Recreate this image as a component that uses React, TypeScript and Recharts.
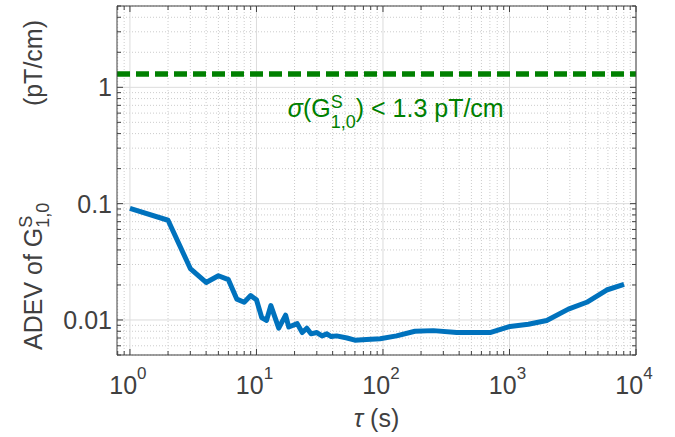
import React from 'react';
import {
  ComposedChart,
  Line,
  XAxis,
  YAxis,
  CartesianGrid,
  ReferenceLine,
  ReferenceDot,
} from 'recharts';

document.body.style.margin = '0';

// averaging time tau (s) and Allan deviation (pT/cm)
const tau = [1, 2, 3, 4, 5, 6, 7, 8, 9, 10, 11, 12, 13, 15, 17, 18, 21, 23, 25, 27, 30, 33, 36, 39, 43, 52, 60, 74, 95, 128, 179, 250, 383, 702, 1010, 1410, 1970, 2920, 4080, 5860, 8040];
const adev = [0.091, 0.072, 0.0277, 0.021, 0.024, 0.0222, 0.0151, 0.0142, 0.0162, 0.0149, 0.0105, 0.0099, 0.0133, 0.0085, 0.011, 0.0087, 0.0093, 0.0078, 0.0085, 0.0076, 0.0078, 0.0073, 0.0076, 0.0072, 0.0073, 0.007, 0.0067, 0.0068, 0.0069, 0.0073, 0.008, 0.0081, 0.0078, 0.0078, 0.0088, 0.0092, 0.0099, 0.0124, 0.0142, 0.0181, 0.0202];

const LIMIT = 1.3;

const X_DOMAIN = [0.79, 10000];
const Y_DOMAIN = [0.005, 5];
const X_MAJOR = [1, 10, 100, 1000, 10000];
const X_MINOR = [0.8, 0.9, 2, 3, 4, 5, 6, 7, 8, 9, 20, 30, 40, 50, 60, 70, 80, 90, 200, 300, 400, 500, 600, 700, 800, 900, 2000, 3000, 4000, 5000, 6000, 7000, 8000, 9000];
const Y_MAJOR = [0.01, 0.1, 1];
const Y_MINOR = [0.005, 0.006, 0.007, 0.008, 0.009, 0.02, 0.03, 0.04, 0.05, 0.06, 0.07, 0.08, 0.09, 0.2, 0.3, 0.4, 0.5, 0.6, 0.7, 0.8, 0.9, 2, 3, 4, 5];
const Y_LABELS = ['0.01', '0.1', '1'];

const data = tau.map((t, i) => ({ tau: t, adev: adev[i] }));

const FONT = '"Liberation Sans", Arial, Helvetica, sans-serif';
const AXIS = '#404040';
const GREEN = '#008000';
const BLUE = '#0072BD';

function XTick(props: any) {
  const { x, y, payload, side } = props;
  const v = payload.value;
  const major = X_MAJOR.includes(v);
  const len = major ? 6 : 4;
  const dir = side === 'bottom' ? -1 : 1;
  return (
    <g>
      <line x1={x} x2={x} y1={y} y2={y + dir * len} stroke={AXIS} strokeWidth={1} />
      {side === 'bottom' && major && (
        <text x={x - 2} y={y + 39} textAnchor="middle" fontFamily={FONT} fontSize={25} fill={AXIS}>
          10
          <tspan dy={-15} fontSize={17}>{Math.round(Math.log10(v))}</tspan>
        </text>
      )}
    </g>
  );
}

function YTick(props: any) {
  const { x, y, payload, side } = props;
  const v = payload.value;
  const idx = Y_MAJOR.indexOf(v);
  const len = idx >= 0 ? 6 : 4;
  const dir = side === 'left' ? 1 : -1;
  return (
    <g>
      <line x1={x} x2={x + dir * len} y1={y} y2={y} stroke={AXIS} strokeWidth={1} />
      {side === 'left' && idx >= 0 && (
        <text x={x - 5} y={y + 9} textAnchor="end" fontFamily={FONT} fontSize={25} fill={AXIS}>
          {Y_LABELS[idx]}
        </text>
      )}
    </g>
  );
}

function XLabel({ viewBox }: any) {
  const cx = viewBox.x + viewBox.width / 2;
  return (
    <text x={cx} y={viewBox.y + 72} textAnchor="middle" fontFamily={FONT} fontSize={25} fill={AXIS}>
      <tspan fontStyle="italic">τ</tspan> (s)
    </text>
  );
}

function YLabel({ viewBox }: any) {
  const base = viewBox.x - 5;
  const bottom = viewBox.y + viewBox.height - 5;
  const top = viewBox.y + 14;
  return (
    <g transform={`translate(${base},0) rotate(-90)`} fontFamily={FONT} fill={AXIS}>
      <text x={-bottom} y={0} fontSize={25}>
        ADEV of G
        <tspan dy={-10} fontSize={18}>S</tspan>
        <tspan dx={-12} dy={17} fontSize={18}>1,0</tspan>
      </text>
      <text x={-top} y={0} fontSize={25} textAnchor="end">(pT/cm)</text>
    </g>
  );
}

function Annotation(props: any) {
  const { cx, cy } = props;
  return (
    <text x={cx} y={cy} fontFamily={FONT} fontSize={25} fill={GREEN}>
      <tspan fontStyle="italic">σ</tspan>(G
      <tspan dy={-9} fontSize={18}>S</tspan>
      <tspan dx={-12} dy={20} fontSize={18}>1,0</tspan>
      <tspan dy={-11} fontSize={25}>) &lt; 1.3 pT/cm</tspan>
    </text>
  );
}

export default function App() {
  const xTicks = [...X_MAJOR, ...X_MINOR].sort((a, b) => a - b);
  const yTicks = [...Y_MAJOR, ...Y_MINOR].sort((a, b) => a - b);
  return (
    <div style={{ width: 675, height: 437, background: '#fff' }}>
      <ComposedChart
        width={675}
        height={437}
        data={data}
        margin={{ top: 5, right: 38, left: 47, bottom: 22 }}
      >
        <CartesianGrid
          horizontalValues={Y_MINOR}
          verticalValues={X_MINOR}
          stroke="#cccccc"
          strokeDasharray="1 2"
        />
        <CartesianGrid horizontalValues={Y_MAJOR} verticalValues={X_MAJOR} stroke="#dcdcdc" />
        <XAxis
          dataKey="tau"
          type="number"
          scale="log"
          domain={X_DOMAIN}
          allowDataOverflow
          ticks={xTicks}
          interval={0}
          tickSize={0}
          tickMargin={0}
          tickLine={false}
          height={60}
          axisLine={{ stroke: AXIS }}
          tick={(p: any) => <XTick {...p} side="bottom" />}
          label={{ content: (p: any) => <XLabel {...p} /> }}
        />
        <XAxis
          xAxisId="top"
          orientation="top"
          dataKey="tau"
          type="number"
          scale="log"
          domain={X_DOMAIN}
          allowDataOverflow
          ticks={xTicks}
          interval={0}
          tickSize={0}
          tickMargin={0}
          tickLine={false}
          height={1}
          axisLine={{ stroke: AXIS }}
          tick={(p: any) => <XTick {...p} side="top" />}
        />
        <YAxis
          type="number"
          scale="log"
          domain={Y_DOMAIN}
          allowDataOverflow
          ticks={yTicks}
          interval={0}
          tickSize={0}
          tickMargin={0}
          tickLine={false}
          width={70}
          axisLine={{ stroke: AXIS }}
          tick={(p: any) => <YTick {...p} side="left" />}
          label={{ content: (p: any) => <YLabel {...p} /> }}
        />
        <YAxis
          yAxisId="right"
          orientation="right"
          type="number"
          scale="log"
          domain={Y_DOMAIN}
          allowDataOverflow
          ticks={yTicks}
          interval={0}
          tickSize={0}
          tickMargin={0}
          tickLine={false}
          width={1}
          axisLine={{ stroke: AXIS }}
          tick={(p: any) => <YTick {...p} side="right" />}
        />
        <ReferenceLine y={LIMIT} stroke={GREEN} strokeWidth={5.5} strokeDasharray="13 6" />
        <ReferenceDot
          x={17.7}
          y={0.555}
          r={1}
          shape={(p: any) => <Annotation {...p} />}
        />
        <Line
          type="linear"
          dataKey="adev"
          stroke={BLUE}
          strokeWidth={5}
          strokeLinejoin="round"
          dot={false}
          isAnimationActive={false}
        />
      </ComposedChart>
    </div>
  );
}
